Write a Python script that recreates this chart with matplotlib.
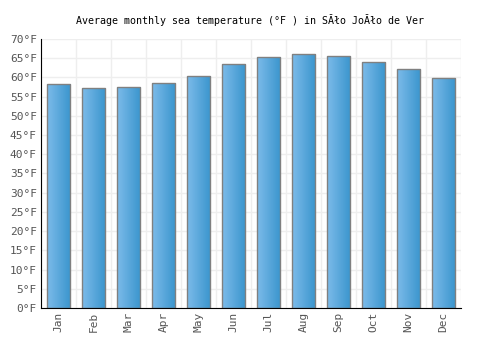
import matplotlib
matplotlib.use('Agg')
import matplotlib.pyplot as plt
import numpy as np
from matplotlib.colors import LinearSegmentedColormap

months = ['Jan', 'Feb', 'Mar', 'Apr', 'May', 'Jun', 'Jul', 'Aug', 'Sep', 'Oct', 'Nov', 'Dec']
temps = [58.2, 57.2, 57.4, 58.5, 60.3, 63.4, 65.2, 66.0, 65.5, 63.9, 62.1, 59.8]
yticks = list(range(0, 75, 5))
title = 'Average monthly sea temperature (°F ) in SĂło JoĂło de Ver'

plt.rcParams['font.family'] = ['DejaVu Sans Mono', 'DejaVu Sans']

fig = plt.figure(figsize=(5, 3.5), dpi=100)
ax = fig.add_axes([0.082, 0.12, 0.84, 0.769])

x = np.arange(len(months))
bars = ax.bar(x, temps, width=0.68, color='none', edgecolor='#808080', linewidth=1.0, zorder=3)

# horizontal gradient inside each bar
cmap = LinearSegmentedColormap.from_list('blu', ['#7cbbea', '#3a95cd'])
grad = np.linspace(0, 1, 64).reshape(1, -1)
for b in bars:
    bx, by = b.get_x(), b.get_y()
    w, h = b.get_width(), b.get_height()
    im = ax.imshow(grad, cmap=cmap, aspect='auto', extent=(bx, bx + w, by, by + h), zorder=2)
    im.set_clip_path(b)

ax.set_xlim(-0.5, len(months) - 0.5)
ax.set_ylim(0, 70)
ax.set_yticks(yticks)
ax.set_yticklabels([str(t) + '°F' for t in yticks])
ax.set_xticks(x)
ax.set_xticklabels(months, rotation=90)

# grid on category boundaries and every 5 degrees
ax.set_xticks(np.arange(-0.5, len(months), 1), minor=True)
ax.grid(which='minor', axis='x', color='#eeeeee', linewidth=1, zorder=0)
ax.grid(which='major', axis='y', color='#eeeeee', linewidth=1, zorder=0)
ax.tick_params(axis='both', which='both', length=0, labelsize=8, colors='#555555', pad=3)

for s in ['top', 'right']:
    ax.spines[s].set_visible(False)
ax.spines['left'].set_color('black')
ax.spines['bottom'].set_color('black')
ax.spines['left'].set_zorder(4)
ax.spines['bottom'].set_zorder(4)

fig.text(0.5, 0.942, title, ha='center', va='center', fontsize=7.2, color='black')

fig.savefig('out.png', dpi=100)
